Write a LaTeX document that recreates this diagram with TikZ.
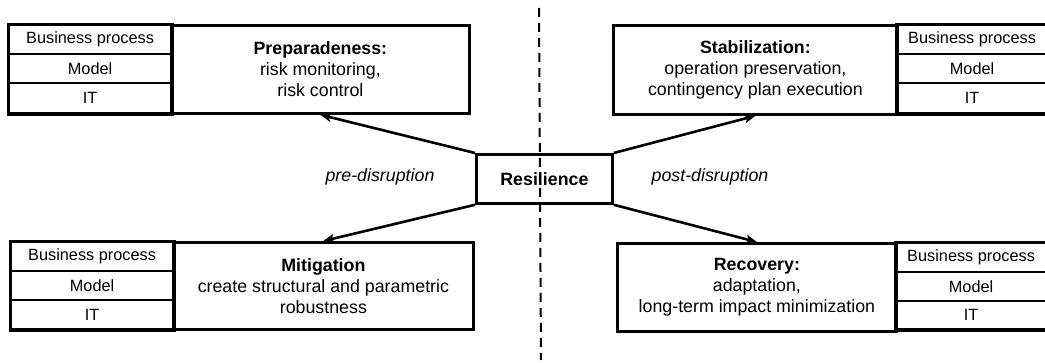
\documentclass[tikz,border=0pt]{standalone}
\usepackage{fontspec}
\setmainfont{Liberation Sans}
\usetikzlibrary{arrows.meta}
\begin{document}
\begin{tikzpicture}[x=1pt,y=-1pt,
  mainbox/.style={draw,line width=2.8pt,inner sep=0pt,anchor=north west,align=center,
    font=\fontsize{17.8}{21}\selectfont},
  rowbox/.style={draw,line width=2.2pt,inner sep=0pt,anchor=north west,
    font=\fontsize{16.3}{19}\selectfont},
  frame/.style={draw,line width=2.8pt},
  resbox/.style={draw,line width=2.8pt,inner sep=0pt,anchor=north west,
    font=\fontsize{17.8}{21}\selectfont\bfseries},
  arr/.style={line width=2.6pt,-{Stealth[length=11pt,width=9pt,inset=2.5pt]}},
  dashline/.style={line width=2pt,dash pattern=on 9pt off 6pt},
  lbl/.style={font=\fontsize{17.8}{21}\selectfont\itshape,inner sep=0pt}]
\useasboundingbox (0,0) rectangle (1045,363);

% dashed divider
\coordinate (dtop) at (539,8);
\coordinate (dbot) at (541,360);
\draw[dashline] (dtop) -- (dbot);

% top-left group
\node[rowbox,minimum width=162pt,minimum height=29pt] (bp1) at (8,24) {Business process};
\node[rowbox,minimum width=162pt,minimum height=29pt] (mo1) at (8,53) {Model};
\node[rowbox,minimum width=162pt,minimum height=30pt] (it1) at (8,82) {IT};
\draw[frame] (bp1.north west) rectangle (it1.south east);
\node[mainbox,minimum width=298pt,minimum height=88pt] (prep) at (170,24)
  {\textbf{Preparadeness:}\\risk monitoring,\\risk control};

% top-right group
\node[mainbox,minimum width=284pt,minimum height=89pt] (stab) at (612,24)
  {\textbf{Stabilization:}\\operation preservation,\\contingency plan execution};
\node[rowbox,minimum width=150pt,minimum height=29pt] (bp2) at (896,24) {Business process};
\node[rowbox,minimum width=150pt,minimum height=29pt] (mo2) at (896,53) {Model};
\node[rowbox,minimum width=150pt,minimum height=30pt] (it2) at (896,82) {IT};
\draw[frame] (bp2.north west) rectangle (it2.south east);

% bottom-left group
\node[rowbox,minimum width=162pt,minimum height=29pt] (bp3) at (10,241) {Business process};
\node[rowbox,minimum width=162pt,minimum height=29pt] (mo3) at (10,270) {Model};
\node[rowbox,minimum width=162pt,minimum height=29pt] (it3) at (10,299) {IT};
\draw[frame] (bp3.north west) rectangle (it3.south east);
\node[mainbox,minimum width=300pt,minimum height=87pt] (miti) at (172,241)
  {\textbf{Mitigation}\\create structural and parametric\\robustness};

% bottom-right group
\node[mainbox,minimum width=279pt,minimum height=88pt] (reco) at (616,242)
  {\textbf{Recovery:}\\adaptation,\\long-term impact minimization};
\node[rowbox,minimum width=150pt,minimum height=29pt] (bp4) at (895,242) {Business process};
\node[rowbox,minimum width=150pt,minimum height=29pt] (mo4) at (895,271) {Model};
\node[rowbox,minimum width=150pt,minimum height=28pt] (it4) at (895,300) {IT};
\draw[frame] (bp4.north west) rectangle (it4.south east);

% centre
\node[resbox,minimum width=136pt,minimum height=49pt] (res) at (475,153) {Resilience};

% labels
\node[lbl] (pre) at (380,177) {pre-disruption};
\node[lbl] (post) at (710,177) {post-disruption};

% arrows
\draw[arr] (res.north west) -- (prep.south);
\draw[arr] (res.north east) -- (stab.south);
\draw[arr] (res.south west) -- (miti.north);
\draw[arr] (res.south east) -- (reco.north);
\end{tikzpicture}
\end{document}
